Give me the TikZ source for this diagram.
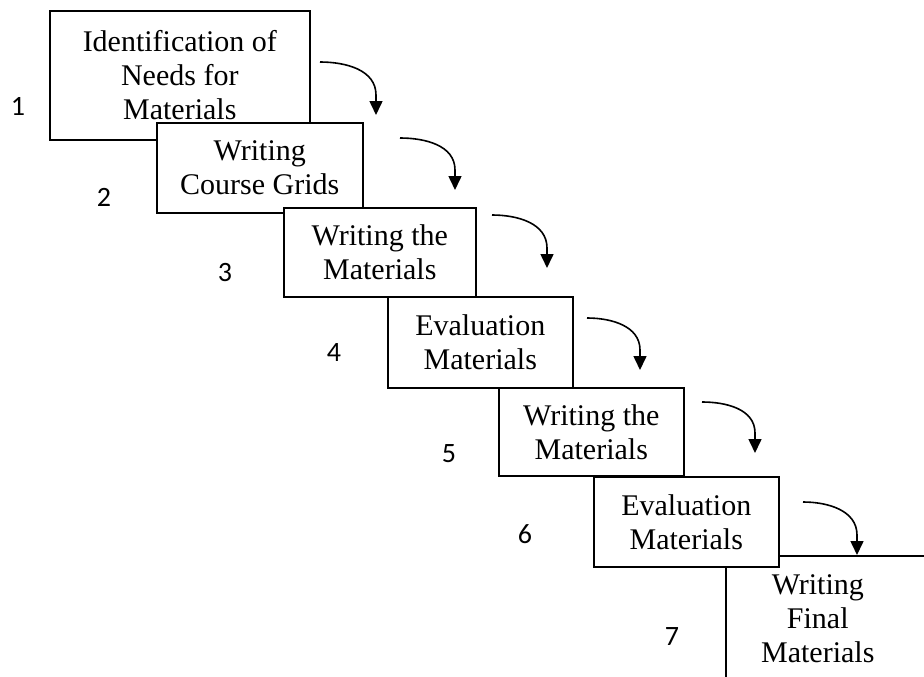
\documentclass[tikz,border=0pt]{standalone}
\usepackage{fontspec}
\setmainfont{Liberation Serif}
\newfontfamily\numfont{Carlito}
\usetikzlibrary{arrows.meta}

\begin{document}
\begin{tikzpicture}[x=1pt, y=-1pt, line width=1.6pt, >={Triangle[length=14pt,width=13pt]},
  stage/.style = {draw, fill=white, anchor=north west, align=center, inner sep=0pt, font=\fontsize{30}{34}\selectfont},
  num/.style = {font=\numfont\fontsize{28}{32}\selectfont}]
            \useasboundingbox (0,0) rectangle (924,677);
            \clip (0,0) rectangle (924,677);
            \node[stage, draw=none, fill=none, minimum width=182pt, minimum height=124pt] (b7) at (726,556) {Writing\\Final\\Materials};
            \draw (b7.south west) -- (b7.north west) -- ([xshift=40pt]b7.north east);
            \node[stage, minimum width=260pt, minimum height=129pt] (b1) at (49,10) {Identification of\\Needs for\\Materials};
            \node[stage, minimum width=206pt, minimum height=90pt] (b2) at (156,122) {Writing\\Course Grids};
            \node[stage, minimum width=192pt, minimum height=89pt] (b3) at (283,207) {Writing the\\Materials};
            \node[stage, minimum width=185pt, minimum height=91pt] (b4) at (387,296) {Evaluation\\Materials};
            \node[stage, minimum width=185pt, minimum height=88pt] (b5) at (498,387) {Writing the\\Materials};
            \node[stage, minimum width=185pt, minimum height=90pt] (b6) at (593,476) {Evaluation\\Materials};
            \node[num] (n1) at (18,106) {1};
            \node[num] (n2) at (104,197) {2};
            \node[num] (n3) at (225,273) {3};
            \node[num] (n4) at (334,353) {4};
            \node[num] (n5) at (449,454) {5};
            \node[num] (n6) at (525,534) {6};
            \node[num] (n7) at (672,637) {7};
            \coordinate (s1) at (320,62);  \coordinate (e1) at (376,115);
            \coordinate (s2) at (400,138); \coordinate (e2) at (455,190);
            \coordinate (s3) at (492,215); \coordinate (e3) at (547,268);
            \coordinate (s4) at (587,318); \coordinate (e4) at (640,370);
            \coordinate (s5) at (702,402); \coordinate (e5) at (755,453);
            \coordinate (s6) at (803,502); \coordinate (e6) at (857,555);
            \draw[->] (s1) to [out=0,in=90] ([yshift=20pt]e1) -- (e1);
            \draw[->] (s2) to [out=0,in=90] ([yshift=20pt]e2) -- (e2);
            \draw[->] (s3) to [out=0,in=90] ([yshift=20pt]e3) -- (e3);
            \draw[->] (s4) to [out=0,in=90] ([yshift=20pt]e4) -- (e4);
            \draw[->] (s5) to [out=0,in=90] ([yshift=20pt]e5) -- (e5);
            \draw[->] (s6) to [out=0,in=90] ([yshift=20pt]e6) -- (e6);
        \end{tikzpicture}
\end{document}
